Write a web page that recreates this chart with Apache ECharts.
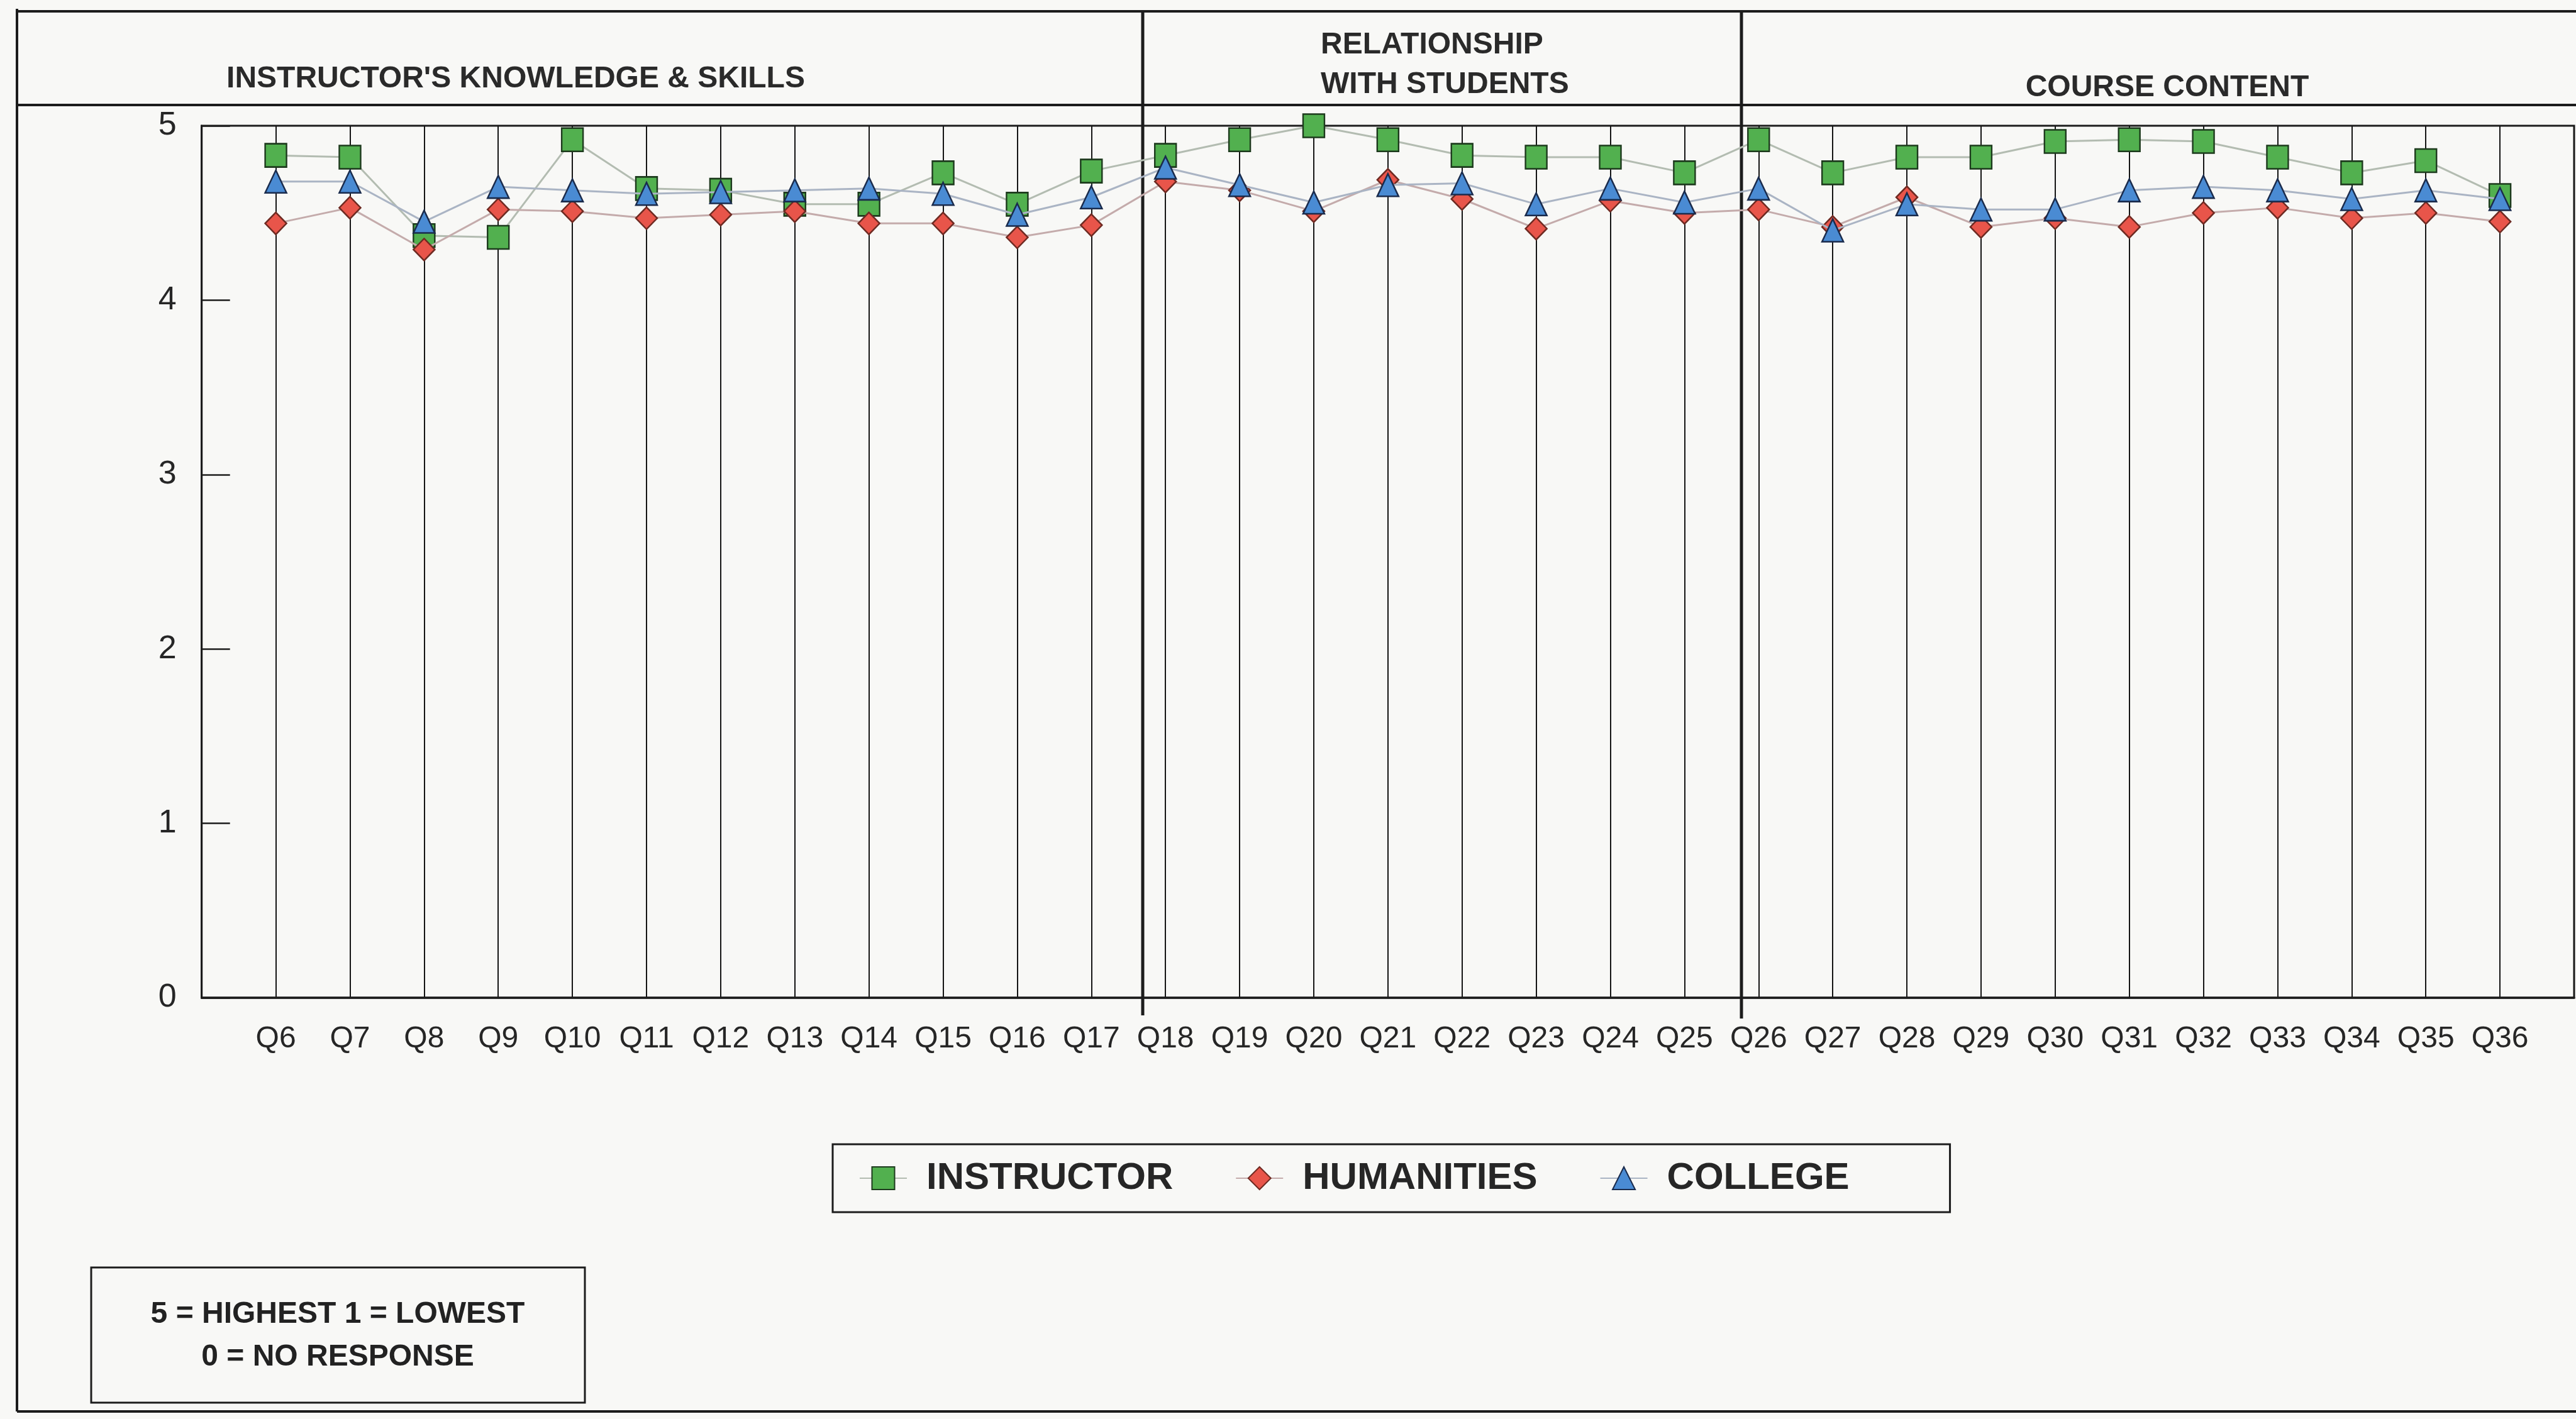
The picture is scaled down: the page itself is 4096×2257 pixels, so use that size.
<!DOCTYPE html>
<html>
<head>
<meta charset="utf-8">
<script src="https://cdn.jsdelivr.net/npm/echarts@6/dist/echarts.min.js"></script>
<style>
  html, body { margin: 0; padding: 0; background: #f8f8f6; }
  #chart { width: 4096px; height: 2257px; }
</style>
</head>
<body>
<div id="chart"></div>
<script>
// Survey items and mean ratings (5 = highest, 1 = lowest)
const firstQuestion = 6;
const questions = ['Q6','Q7','Q8','Q9','Q10','Q11','Q12','Q13','Q14','Q15','Q16','Q17',
  'Q18','Q19','Q20','Q21','Q22','Q23','Q24','Q25',
  'Q26','Q27','Q28','Q29','Q30','Q31','Q32','Q33','Q34','Q35','Q36'];

const instructor = [4.83, 4.82, 4.37, 4.36, 4.92, 4.64, 4.63, 4.55, 4.55, 4.73, 4.55, 4.74,
  4.83, 4.92, 5.00, 4.92, 4.83, 4.82, 4.82, 4.73,
  4.92, 4.73, 4.82, 4.82, 4.91, 4.92, 4.91, 4.82, 4.73, 4.80, 4.60];
const humanities = [4.44, 4.53, 4.29, 4.52, 4.51, 4.47, 4.49, 4.51, 4.44, 4.44, 4.36, 4.43,
  4.68, 4.63, 4.51, 4.69, 4.58, 4.41, 4.57, 4.50,
  4.52, 4.42, 4.59, 4.42, 4.47, 4.42, 4.50, 4.53, 4.47, 4.50, 4.45];
const college = [4.68, 4.68, 4.45, 4.65, 4.63, 4.61, 4.62, 4.63, 4.64, 4.61, 4.49, 4.59,
  4.76, 4.66, 4.56, 4.66, 4.67, 4.55, 4.64, 4.56,
  4.64, 4.40, 4.55, 4.52, 4.52, 4.63, 4.65, 4.63, 4.58, 4.63, 4.58];

const seriesNames = ['INSTRUCTOR', 'HUMANITIES', 'COLLEGE'];
const yTicks = [0, 1, 2, 3, 4, 5];
const sectionTitles = ["INSTRUCTOR'S KNOWLEDGE & SKILLS", 'RELATIONSHIP\nWITH STUDENTS', 'COURSE CONTENT'];
const scaleNote = ['5 = HIGHEST 1 = LOWEST', '0 = NO RESPONSE'];

const FONT = '"Liberation Sans", Arial, sans-serif';
const INK = '#1c1c1c';

function pairs(values) {
  return values.map((v, i) => [firstQuestion + i, v]);
}

const chart = echarts.init(document.getElementById('chart'), null, { renderer: 'canvas' });

const markerStyles = [
  { symbol: 'rect', size: [34, 37], fill: '#52b04f', border: '#1d3a1d', line: '#b3bcb1' },
  { symbol: 'diamond', size: [34, 35], fill: '#e8554a', border: '#6e2a22', line: '#c4abab' },
  { symbol: 'triangle', size: [34, 36], fill: '#4a8bd3', border: '#1a2b4c', line: '#aab4c4' }
];
const seriesValues = [instructor, humanities, college];

const series = seriesNames.map((name, k) => ({
  name: name,
  type: 'line',
  data: pairs(seriesValues[k]),
  symbol: markerStyles[k].symbol,
  symbolSize: markerStyles[k].size,
  showAllSymbol: true,
  z: 3 + k,
  lineStyle: { color: markerStyles[k].line, width: 3 },
  itemStyle: { color: markerStyles[k].fill, borderColor: markerStyles[k].border, borderWidth: 2.5, opacity: 1 },
  emphasis: { disabled: true }
}));

const frameLine = { stroke: INK, lineWidth: 4 };

const graphics = [
  // page frame and header band
  { type: 'line', shape: { x1: 27, y1: 14, x2: 27, y2: 2245 }, style: frameLine },
  { type: 'line', shape: { x1: 27, y1: 18, x2: 4096, y2: 18 }, style: frameLine },
  { type: 'line', shape: { x1: 27, y1: 167, x2: 4096, y2: 167 }, style: frameLine },
  { type: 'line', shape: { x1: 27, y1: 2245, x2: 4096, y2: 2245 }, style: frameLine },
  // section dividers
  { type: 'line', shape: { x1: 1817, y1: 18, x2: 1817, y2: 1615 }, style: { stroke: INK, lineWidth: 5 } },
  { type: 'line', shape: { x1: 2769, y1: 18, x2: 2769, y2: 1620 }, style: { stroke: INK, lineWidth: 5 } },
  // section titles
  { type: 'text', x: 820, y: 126, style: { text: sectionTitles[0], font: 'bold 48px ' + FONT, fill: '#2a2a2a', align: 'center', verticalAlign: 'middle' } },
  { type: 'text', x: 2100, y: 103, style: { text: sectionTitles[1], font: 'bold 48px ' + FONT, lineHeight: 63, fill: '#2a2a2a', align: 'left', verticalAlign: 'middle' } },
  { type: 'text', x: 3446, y: 140, style: { text: sectionTitles[2], font: 'bold 48px ' + FONT, fill: '#2a2a2a', align: 'center', verticalAlign: 'middle' } },
  // rating scale note
  { type: 'rect', shape: { x: 145, y: 2016, width: 785, height: 215 }, style: { fill: 'none', stroke: INK, lineWidth: 3 } },
  { type: 'text', x: 537, y: 2125, style: { text: scaleNote.join('\n'), font: 'bold 48px ' + FONT, lineHeight: 68, fill: '#222', align: 'center', verticalAlign: 'middle' } }
];

const option = {
  animation: false,
  backgroundColor: '#f8f8f6',
  grid: {
    left: 320.7, right: -7.1, top: 200, bottom: 670,
    show: true, borderColor: INK, borderWidth: 3, backgroundColor: 'transparent'
  },
  xAxis: {
    type: 'value',
    min: firstQuestion - 1,
    max: firstQuestion + questions.length,
    interval: 1,
    axisLine: { show: true, onZero: false, lineStyle: { color: INK, width: 3.5 } },
    axisTick: { show: false },
    splitLine: { show: true, lineStyle: { color: '#151515', width: 2 } },
    axisLabel: {
      margin: 42,
      fontFamily: FONT, fontSize: 48, color: '#262626',
      formatter: v => questions[v - firstQuestion] || ''
    }
  },
  yAxis: {
    type: 'value',
    min: yTicks[0],
    max: yTicks[yTicks.length - 1],
    interval: 1,
    axisLine: { show: true, lineStyle: { color: INK, width: 3 } },
    axisTick: { show: true, inside: true, length: 45, lineStyle: { color: INK, width: 2.5 } },
    splitLine: { show: false },
    axisLabel: { margin: 40, fontFamily: FONT, fontSize: 52, color: '#262626' }
  },
  legend: {
    data: seriesNames,
    orient: 'horizontal',
    left: 1324, top: 1820,
    padding: [24, 160, 24, 42],
    itemWidth: 75, itemHeight: 45, itemGap: 99,
    borderColor: INK, borderWidth: 3,
    selectedMode: false,
    textStyle: { fontFamily: FONT, fontWeight: 'bold', fontSize: 60, color: '#262626', padding: [0, 0, 0, 26] }
  },
  graphic: graphics,
  series: series
};

chart.setOption(option);
</script>
</body>
</html>
